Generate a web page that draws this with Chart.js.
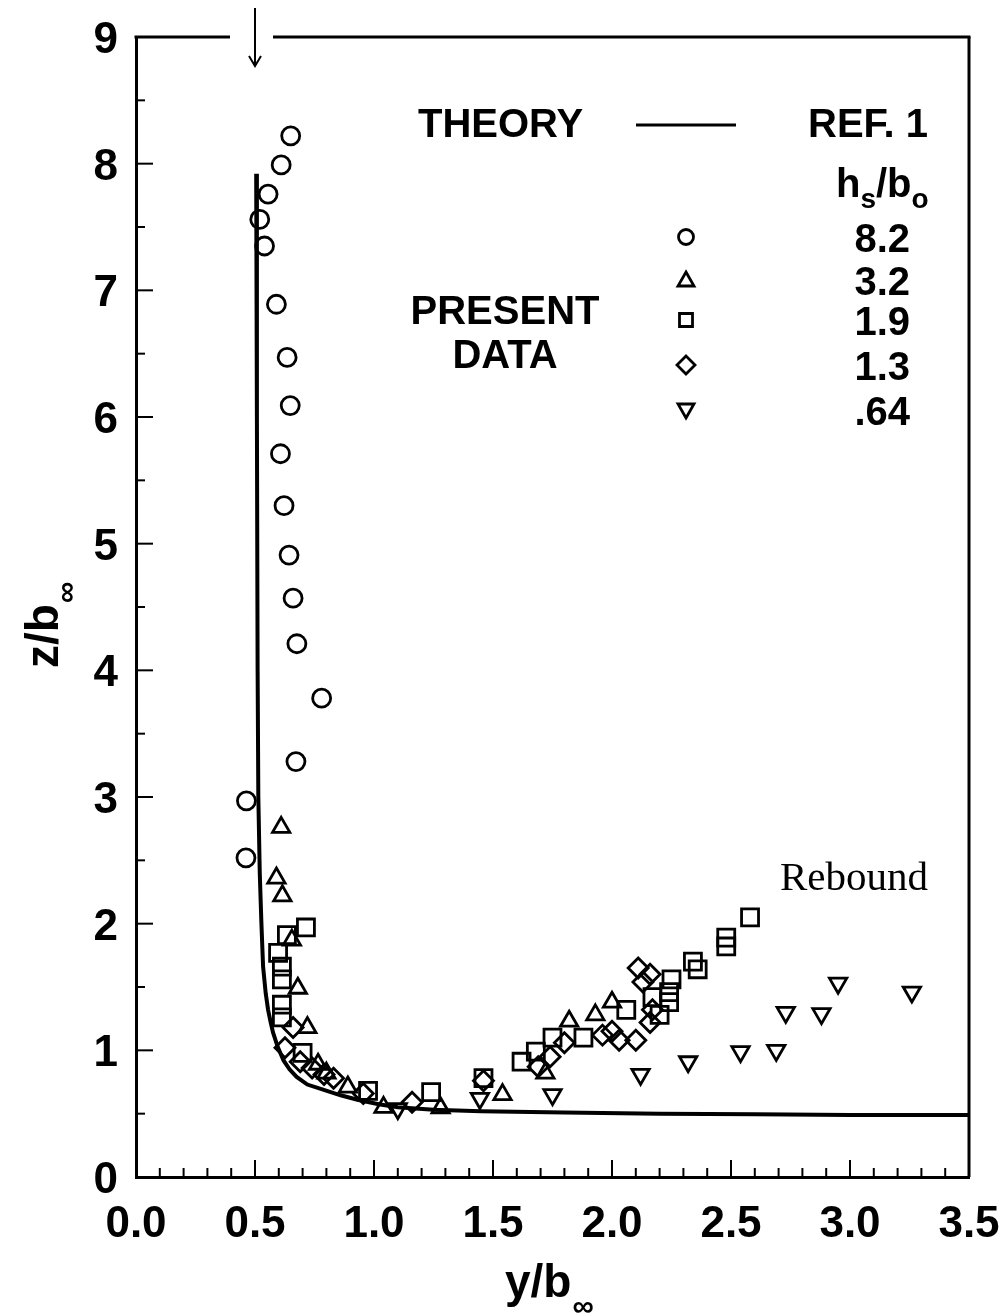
<!DOCTYPE html>
<html lang="en">
<head>
<meta charset="UTF-8">
<title>Rebound trajectory z/b vs y/b</title>
<style>
  body { margin: 0; background: #fff; }
  #wrap { width: 1006px; height: 1316px; position: relative; }
</style>
<script src="https://cdn.jsdelivr.net/npm/chart.js"></script>
</head>
<body>
<div id="wrap"><canvas id="reboundChart"></canvas></div>
<script>
// theory curve (solid line)
const theoryY = [0.505, 0.508, 0.511, 0.514, 0.52, 0.527, 0.534, 0.545, 0.555, 0.566, 0.576, 0.595, 0.62, 0.645, 0.675, 0.72, 0.786, 0.86, 0.93, 1.02, 1.10, 1.25, 1.45, 1.8, 2.2, 2.6, 3.0, 3.5];
const theoryZ = [7.92, 6.0, 4.0, 3.0, 2.4, 2.0, 1.66, 1.45, 1.32, 1.22, 1.14, 1.03, 0.92, 0.85, 0.79, 0.73, 0.69, 0.645, 0.61, 0.575, 0.55, 0.53, 0.52, 0.51, 0.50, 0.495, 0.49, 0.49];

// present data, h_s/b_o = 8.2 (circles)
const circY = [0.65, 0.61, 0.555, 0.52, 0.54, 0.59, 0.635, 0.648, 0.607, 0.622, 0.643, 0.66, 0.676, 0.78, 0.672, 0.464, 0.462];
const circZ = [8.22, 7.99, 7.76, 7.56, 7.35, 6.89, 6.47, 6.09, 5.71, 5.30, 4.91, 4.57, 4.21, 3.78, 3.28, 2.97, 2.52];

// 3.2 (triangles)
const triY = [0.61, 0.59, 0.615, 0.655, 0.68, 0.72, 0.765, 0.80, 0.89, 1.04, 1.28, 1.54, 1.72, 1.82, 1.93, 2.0];
const triZ = [2.76, 2.36, 2.22, 1.87, 1.49, 1.18, 0.89, 0.82, 0.71, 0.55, 0.545, 0.65, 0.82, 1.23, 1.28, 1.38];

// 1.9 (squares)
const sqY = [0.714, 0.634, 0.597, 0.613, 0.613, 0.613, 0.613, 0.70, 0.975, 1.24, 1.46, 1.62, 1.68, 1.75, 1.88, 2.06, 2.2, 2.17, 2.24, 2.24, 2.25, 2.34, 2.36, 2.48, 2.48, 2.58];
const sqZ = [1.97, 1.91, 1.77, 1.66, 1.56, 1.36, 1.26, 0.98, 0.68, 0.67, 0.78, 0.91, 0.99, 1.10, 1.10, 1.32, 1.28, 1.42, 1.38, 1.46, 1.56, 1.70, 1.64, 1.89, 1.82, 2.05];

// 1.3 (diamonds)
const diaY = [0.66, 0.626, 0.69, 0.74, 0.79, 0.83, 0.955, 1.16, 1.46, 1.69, 1.74, 1.80, 1.96, 2.0, 2.03, 2.10, 2.11, 2.16, 2.13, 2.16, 2.17];
const diaZ = [1.18, 1.02, 0.91, 0.86, 0.81, 0.78, 0.66, 0.59, 0.76, 0.87, 0.95, 1.06, 1.12, 1.15, 1.08, 1.08, 1.65, 1.60, 1.54, 1.22, 1.32];

// .64 (inverted triangles)
const invY = [1.10, 1.445, 1.75, 2.12, 2.32, 2.54, 2.69, 2.73, 2.88, 2.95, 3.26];
const invZ = [0.54, 0.62, 0.65, 0.81, 0.91, 0.99, 1.00, 1.30, 1.29, 1.53, 1.46];

const legendValues = ['8.2', '3.2', '1.9', '1.3', '.64'];
const legendStyles = ['circle', 'triangle', 'rect', 'rectRot', 'triangleDown'];

const SANS = '"Liberation Sans", Arial, Helvetica, sans-serif';
const SERIF = '"Liberation Serif", "Times New Roman", serif';

function pts(xs, zs) { return xs.map((x, i) => ({ x: x, y: zs[i] })); }

function marker(style, radius, extra) {
  return Object.assign({
    showLine: false,
    pointStyle: style,
    pointRadius: radius,
    pointHoverRadius: radius,
    pointBorderWidth: 2.8,
    pointBorderColor: '#000',
    pointBackgroundColor: 'rgba(0,0,0,0)'
  }, extra || {});
}

// little hand-drawn symbols for the legend block
function symbol(ctx, style, x, y) {
  ctx.beginPath();
  if (style === 'circle') {
    ctx.arc(x, y, 7.5, 0, Math.PI * 2);
  } else if (style === 'triangle') {
    ctx.moveTo(x, y - 8); ctx.lineTo(x + 8, y + 6); ctx.lineTo(x - 8, y + 6); ctx.closePath();
  } else if (style === 'triangleDown') {
    ctx.moveTo(x, y + 8); ctx.lineTo(x + 8, y - 6); ctx.lineTo(x - 8, y - 6); ctx.closePath();
  } else if (style === 'rect') {
    ctx.rect(x - 6.5, y - 6.5, 13, 13);
  } else {
    ctx.moveTo(x, y - 9); ctx.lineTo(x + 9, y); ctx.lineTo(x, y + 9); ctx.lineTo(x - 9, y); ctx.closePath();
  }
  ctx.stroke();
}

function seg(ctx, x1, y1, x2, y2) {
  ctx.beginPath(); ctx.moveTo(x1, y1); ctx.lineTo(x2, y2); ctx.stroke();
}

function noPad(s) {
  s.paddingLeft = 0; s.paddingRight = 0; s.paddingTop = 0; s.paddingBottom = 0;
}

const framePlugin = {
  id: 'frame',
  afterDraw(chart) {
    const ctx = chart.ctx, xs = chart.scales.x, ys = chart.scales.y, a = chart.chartArea;
    ctx.save();
    ctx.strokeStyle = '#000';
    ctx.fillStyle = '#000';

    // top border with gap for the arrow, right border
    const xa = xs.getPixelForValue(0.5);
    ctx.lineWidth = 3;
    seg(ctx, a.left - 1.5, a.top, xa - 25, a.top);
    seg(ctx, xa + 18, a.top, a.right + 1.5, a.top);
    seg(ctx, a.right, a.top, a.right, a.bottom);

    // arrow at y/b = 0.5
    ctx.lineWidth = 2;
    seg(ctx, xa, 8, xa, 66);
    ctx.beginPath(); ctx.moveTo(xa - 6, 56); ctx.lineTo(xa, 66); ctx.lineTo(xa + 6, 56); ctx.stroke();

    // inward ticks
    ctx.lineWidth = 2;
    for (let i = 1; i < 35; i++) {
      const px = xs.getPixelForValue(i / 10);
      seg(ctx, px, a.bottom, px, a.bottom - (i % 5 === 0 ? 17 : 9));
    }
    for (let i = 1; i < 18; i++) {
      const py = ys.getPixelForValue(i / 2);
      seg(ctx, a.left, py, a.left + (i % 2 === 0 ? 17 : 9), py);
    }

    // axis titles
    ctx.textBaseline = 'alphabetic';
    ctx.textAlign = 'left';
    ctx.font = 'bold 46px ' + SANS;
    ctx.fillText('y/b', 505, 1297);
    const wx = ctx.measureText('y/b').width;
    ctx.font = 'bold 30px ' + SANS;
    ctx.fillText('\u221E', 505 + wx + 1, 1316);

    ctx.save();
    ctx.translate(58, 668);
    ctx.rotate(-Math.PI / 2);
    ctx.font = 'bold 46px ' + SANS;
    ctx.fillText('z/b', 0, 0);
    const wz = ctx.measureText('z/b').width;
    ctx.font = 'bold 30px ' + SANS;
    ctx.fillText('\u221E', wz + 1, 18);
    ctx.restore();

    // legend block
    ctx.font = 'bold 40px ' + SANS;
    ctx.textBaseline = 'middle';
    ctx.fillText('THEORY', 418, 126);
    ctx.fillText('REF. 1', 808, 126);
    ctx.lineWidth = 3;
    seg(ctx, 636, 125, 736, 125);

    ctx.textBaseline = 'alphabetic';
    let hx = 836;
    ctx.fillText('h', hx, 197); hx += ctx.measureText('h').width;
    ctx.font = 'bold 28px ' + SANS;
    ctx.fillText('s', hx, 208); hx += ctx.measureText('s').width;
    ctx.font = 'bold 40px ' + SANS;
    ctx.fillText('/b', hx, 197); hx += ctx.measureText('/b').width;
    ctx.font = 'bold 28px ' + SANS;
    ctx.fillText('o', hx, 208);

    ctx.font = 'bold 40px ' + SANS;
    ctx.textBaseline = 'middle';
    ctx.textAlign = 'center';
    ctx.fillText('PRESENT', 505, 313);
    ctx.fillText('DATA', 505, 357);

    const rows = [239, 282, 322, 367, 412];
    ctx.textAlign = 'right';
    ctx.lineWidth = 2.8;
    legendValues.forEach((v, i) => {
      ctx.fillText(v, 910, rows[i] + 2);
      symbol(ctx, legendStyles[i], 686, rows[i] - 2);
    });

    ctx.textAlign = 'left';
    ctx.font = '41px ' + SERIF;
    ctx.fillText('Rebound', 780, 879);
    ctx.restore();
  }
};

new Chart(document.getElementById('reboundChart'), {
  type: 'scatter',
  data: {
    datasets: [
      { label: 'THEORY', data: pts(theoryY, theoryZ), showLine: true, borderColor: '#000', borderWidth: 4, pointRadius: 0, tension: 0, fill: false },
      Object.assign({ label: '8.2', data: pts(circY, circZ) }, marker('circle', 9)),
      Object.assign({ label: '3.2', data: pts(triY, triZ) }, marker('triangle', 10)),
      Object.assign({ label: '1.9', data: pts(sqY, sqZ) }, marker('rect', 12)),
      Object.assign({ label: '1.3', data: pts(diaY, diaZ) }, marker('rectRot', 10)),
      Object.assign({ label: '.64', data: pts(invY, invZ) }, marker('triangle', 10, { pointRotation: 180 }))
    ]
  },
  options: {
    responsive: true,
    maintainAspectRatio: false,
    animation: false,
    layout: { padding: { top: 37, right: 37, left: 0, bottom: 0 } },
    plugins: { legend: { display: false }, tooltip: { enabled: false } },
    scales: {
      x: {
        type: 'linear', min: 0, max: 3.5,
        afterFit: s => { s.height = 139; noPad(s); },
        grid: { display: false, drawTicks: false },
        border: { display: true, width: 3, color: '#000' },
        ticks: { stepSize: 0.5, padding: 21, color: '#000', font: { family: SANS, size: 44, weight: 'bold' }, callback: v => v.toFixed(1) }
      },
      y: {
        type: 'linear', min: 0, max: 9,
        afterFit: s => { s.width = 136; noPad(s); },
        grid: { display: false, drawTicks: false },
        border: { display: true, width: 3, color: '#000' },
        ticks: { stepSize: 1, padding: 18, labelOffset: 4, color: '#000', font: { family: SANS, size: 44, weight: 'bold' } }
      }
    }
  },
  plugins: [framePlugin]
});
</script>
</body>
</html>
